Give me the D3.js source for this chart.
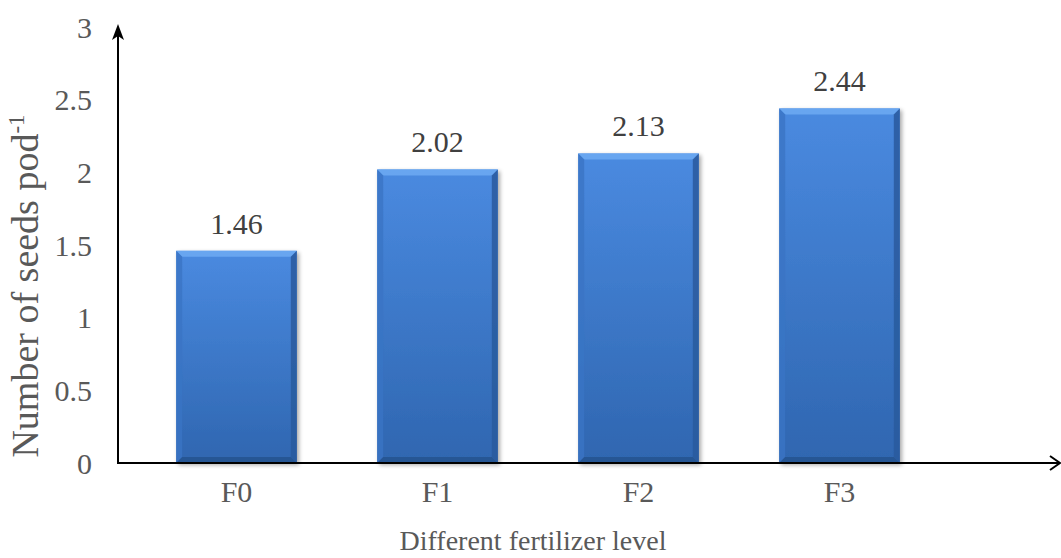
<!DOCTYPE html>
<html>
<head>
<meta charset="utf-8">
<script src="https://cdn.jsdelivr.net/npm/d3@7"></script>
<style>
  html, body { margin: 0; padding: 0; background: #fff; }
  svg { display: block; }
  text { font-family: "Liberation Serif", "Times New Roman", serif; }
</style>
</head>
<body>
<svg id="chart" width="1061" height="558"></svg>
<script>
const categories = ["F0", "F1", "F2", "F3"];
const values = [1.46, 2.02, 2.13, 2.44];
const yTicks = [0, 0.5, 1, 1.5, 2, 2.5, 3];
const xTitle = "Different fertilizer level";
const yTitle = "Number of seeds pod";
const yTitleSup = "-1";

const svg = d3.select("#chart");
const axisX = 118, y0 = 463, yTop = 27;

const x = d3.scaleBand().domain(categories).range([136, 940]).paddingInner(0.4).paddingOuter(0.2);
const y = d3.scaleLinear().domain([0, 3]).range([y0, yTop]);

const defs = svg.append("defs");
const g = defs.append("linearGradient").attr("id", "barGrad").attr("x1", 0).attr("y1", 0).attr("x2", 0).attr("y2", 1);
g.append("stop").attr("offset", "0%").attr("stop-color", "#4a8ae0");
g.append("stop").attr("offset", "100%").attr("stop-color", "#2f66b0");
const sh = defs.append("filter").attr("id", "shadow").attr("x", "-10%").attr("y", "-10%").attr("width", "130%").attr("height", "130%");
sh.append("feGaussianBlur").attr("in", "SourceAlpha").attr("stdDeviation", 2);
sh.append("feOffset").attr("dx", 2).attr("dy", 2).attr("result", "ob");
sh.append("feComponentTransfer").append("feFuncA").attr("type", "linear").attr("slope", 0.35);
const m = sh.append("feMerge");
m.append("feMergeNode");
m.append("feMergeNode").attr("in", "SourceGraphic");

// Y axis tick labels
svg.append("g").selectAll("text").data(yTicks).join("text")
  .attr("x", 92).attr("y", d => y(d)).attr("dy", "0.35em")
  .attr("text-anchor", "end").attr("font-size", 30).attr("fill", "#595959")
  .text(d => d3.format("")(d));

// Bars
const data = categories.map((c, i) => ({c, v: values[i]}));
const bars = svg.append("g").selectAll("g").data(data).join("g").attr("filter", "url(#shadow)");
const bev = 6;
bars.each(function(d) {
  const gg = d3.select(this);
  const bx = x(d.c), bw = x.bandwidth(), by = y(d.v), bh = y0 - y(d.v);
  gg.append("rect").attr("x", bx).attr("y", by).attr("width", bw).attr("height", bh).attr("fill", "url(#barGrad)");
  gg.append("polygon").attr("points", [[bx, by], [bx + bw, by], [bx + bw - bev, by + bev], [bx + bev, by + bev]].join(" "))
    .attr("fill", "#6aa8f2").attr("opacity", 0.9);
  gg.append("polygon").attr("points", [[bx, by], [bx + bev, by + bev], [bx + bev, by + bh - bev], [bx, by + bh]].join(" "))
    .attr("fill", "#3a74c4").attr("opacity", 0.8);
  gg.append("polygon").attr("points", [[bx + bw, by], [bx + bw - bev, by + bev], [bx + bw - bev, by + bh - bev], [bx + bw, by + bh]].join(" "))
    .attr("fill", "#2a5a9e").attr("opacity", 0.85);
  gg.append("polygon").attr("points", [[bx, by + bh], [bx + bev, by + bh - bev], [bx + bw - bev, by + bh - bev], [bx + bw, by + bh]].join(" "))
    .attr("fill", "#27548f").attr("opacity", 0.85);
});

// Value labels
svg.append("g").selectAll("text").data(data).join("text")
  .attr("x", d => x(d.c) + x.bandwidth() / 2).attr("y", d => y(d.v) - 17)
  .attr("text-anchor", "middle").attr("font-size", 30).attr("fill", "#404040")
  .text(d => d3.format(".2f")(d.v));

// Axes lines
svg.append("line").attr("x1", axisX).attr("x2", axisX).attr("y1", y0 + 1).attr("y2", 36)
  .attr("stroke", "#000").attr("stroke-width", 2);
svg.append("polygon").attr("points", [[axisX, 24], [axisX - 6, 40], [axisX, 36], [axisX + 6, 40]].join(" ")).attr("fill", "#000");
svg.append("line").attr("x1", axisX - 1).attr("x2", 1059).attr("y1", y0).attr("y2", y0)
  .attr("stroke", "#000").attr("stroke-width", 2);
svg.append("path").attr("d", `M1050,${y0 - 7} L1060,${y0} L1050,${y0 + 7}`).attr("fill", "none").attr("stroke", "#000").attr("stroke-width", 2);

// X category labels
svg.append("g").selectAll("text").data(categories).join("text")
  .attr("x", d => x(d) + x.bandwidth() / 2).attr("y", 502)
  .attr("text-anchor", "middle").attr("font-size", 30).attr("fill", "#595959")
  .text(d => d);

// X title
svg.append("text").attr("x", 533).attr("y", 550).attr("text-anchor", "middle")
  .attr("font-size", 28).attr("fill", "#595959").text(xTitle);

// Y title
const yt = svg.append("text").attr("transform", "translate(38,286) rotate(-90)")
  .attr("text-anchor", "middle").attr("font-size", 38).attr("fill", "#595959");
yt.append("tspan").text(yTitle);
yt.append("tspan").attr("font-size", 23).attr("dy", -14).text(yTitleSup);
</script>
</body>
</html>
